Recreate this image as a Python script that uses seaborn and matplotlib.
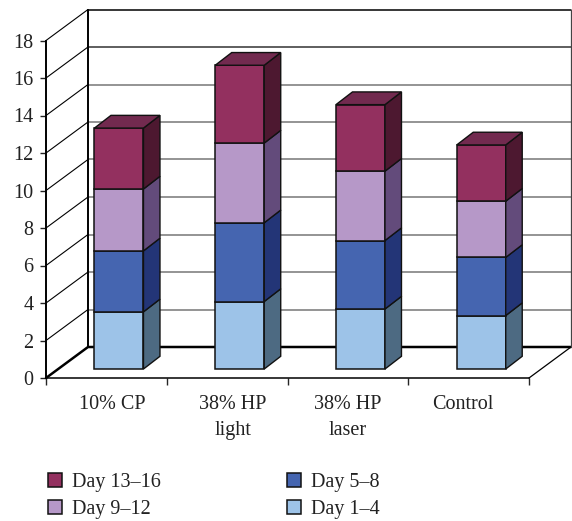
import pandas as pd
import seaborn as sns
import matplotlib.pyplot as plt
from matplotlib.patches import Polygon

sns.set_theme(style="ticks")
plt.rcParams['font.family'] = ['Liberation Serif', 'DejaVu Serif']

categories = ["10% CP", "38% HP\nlight", "38% HP\nlaser", "Control"]
day_1_4 = [3.05, 3.6, 3.2, 2.85]
day_5_8 = [3.25, 4.2, 3.65, 3.1]
day_9_12 = [3.3, 4.25, 3.7, 3.0]
day_13_16 = [3.25, 4.15, 3.55, 3.0]
series_names = ["Day 1–4", "Day 5–8", "Day 9–12", "Day 13–16"]
y_ticks = [0, 2, 4, 6, 8, 10, 12, 14, 16, 18]

front_cols = ["#9DC3E8", "#4565B0", "#B698C8", "#93305F"]
side_cols = ["#4D6A82", "#233577", "#634B7B", "#4D1830"]
top_col = "#722A4F"

fontsize = 14.5
px_x = 1 / 120.75   # one pixel in category units
px_y = 1 / 18.75    # one pixel in value units
wall_dx, wall_dy = 42 * px_x, 31 * px_y
bar_dx, bar_dy = 16.5 * px_x, 12.7 * px_y
bar_shift, bar_lift = 12.6 * px_x, 9 * px_y
bar_width = 49 * px_x

fig = plt.figure(figsize=(5.72, 5.21), dpi=100)
ax = fig.add_axes([46 / 572, (521 - 378) / 521, 483 / 572, 337.5 / 521])

df = pd.DataFrame({"cat": categories, "a": day_1_4, "b": day_5_8, "c": day_9_12, "d": day_13_16})

# walls first so the bars sit on top
x0, x1 = -0.5, 3.5
for v in y_ticks:
    if v == 0:
        continue
    col = "black" if v == 18 else ("#333333" if v == 16 else "#777777")
    ax.plot([x0 + wall_dx, x1 + wall_dx], [v + wall_dy] * 2, color=col, lw=1.1, clip_on=False, zorder=1)
    ax.plot([x0, x0 + wall_dx], [v, v + wall_dy], color="black", lw=0.8, clip_on=False, zorder=1)
ax.plot([x0, x0 + wall_dx, x1 + wall_dx], [0, wall_dy, wall_dy], color="black", lw=1.8, clip_on=False, zorder=1)
ax.plot([x1, x1 + wall_dx], [0, wall_dy], color="black", lw=0.9, clip_on=False, zorder=1)
ax.plot([x0 + wall_dx] * 2, [wall_dy, 18 + wall_dy], color="black", lw=1.4, clip_on=False, zorder=1)
ax.plot([x1 + wall_dx] * 2, [wall_dy, 18 + wall_dy], color="#444444", lw=0.9, clip_on=False, zorder=1)

# stacked front faces
bottom = [bar_lift] * 4
for col_name, name, col, side in zip("abcd", series_names, front_cols, side_cols):
    n_before = len(ax.patches)
    sns.barplot(data=df, x="cat", y=col_name, color=col, label=name, bottom=bottom, width=bar_width,
                saturation=1, edgecolor="#111111", linewidth=1.1, ax=ax, zorder=3)
    for p in ax.patches[n_before:]:
        p.set_x(p.get_x() + bar_shift)
    for p in list(ax.patches[n_before:n_before + 4]):
        r = p.get_x() + p.get_width()
        b, t = p.get_y(), p.get_y() + p.get_height()
        ax.add_patch(Polygon([(r, b), (r + bar_dx, b + bar_dy), (r + bar_dx, t + bar_dy), (r, t)],
                             facecolor=side, edgecolor="#111111", lw=1.0, clip_on=False, zorder=3))
        if col_name == "d":
            l = p.get_x()
            ax.add_patch(Polygon([(l, t), (r, t), (r + bar_dx, t + bar_dy), (l + bar_dx, t + bar_dy)],
                                 facecolor=top_col, edgecolor="#111111", lw=1.0, clip_on=False, zorder=3))
    bottom = [s + v for s, v in zip(bottom, df[col_name])]

ax.set_xlim(x0, x1)
ax.set_ylim(0, 18)
ax.set_xlabel("")
ax.set_ylabel("")
ax.set_yticks(y_ticks)
ax.tick_params(axis="y", labelsize=fontsize, length=4, width=1, pad=5, colors="#222222")
ax.set_xticks([-0.5, 0.5, 1.5, 2.5, 3.5], labels=[])
ax.set_xticks([0.05, 1.05, 2.0, 2.95], labels=categories, minor=True)
ax.tick_params(axis="x", which="major", length=5, width=1)
ax.tick_params(axis="x", which="minor", length=0, labelsize=fontsize, pad=12, colors="#222222")
for lab in ax.get_xticklabels(minor=True):
    lab.set_linespacing(1.5)
sns.despine(ax=ax)
ax.spines["left"].set_linewidth(1.4)
ax.spines["bottom"].set_linewidth(1.1)
ax.spines["left"].set_color("black")
ax.spines["bottom"].set_color("black")

handles, labels = ax.get_legend_handles_labels()
order = [3, 2, 1, 0]
leg = ax.legend([handles[i] for i in order], [labels[i] for i in order], ncol=2, frameon=False,
                loc="upper left", bbox_to_anchor=(48 / 572, 1 - 473 / 521), bbox_transform=fig.transFigure,
                fontsize=fontsize, handlelength=0.69, handleheight=0.69, handletextpad=0.5,
                columnspacing=6.25, labelspacing=0.38, borderpad=0, borderaxespad=0)
for t in leg.get_texts():
    t.set_color("#222222")

plt.savefig("out.png", dpi=100)
